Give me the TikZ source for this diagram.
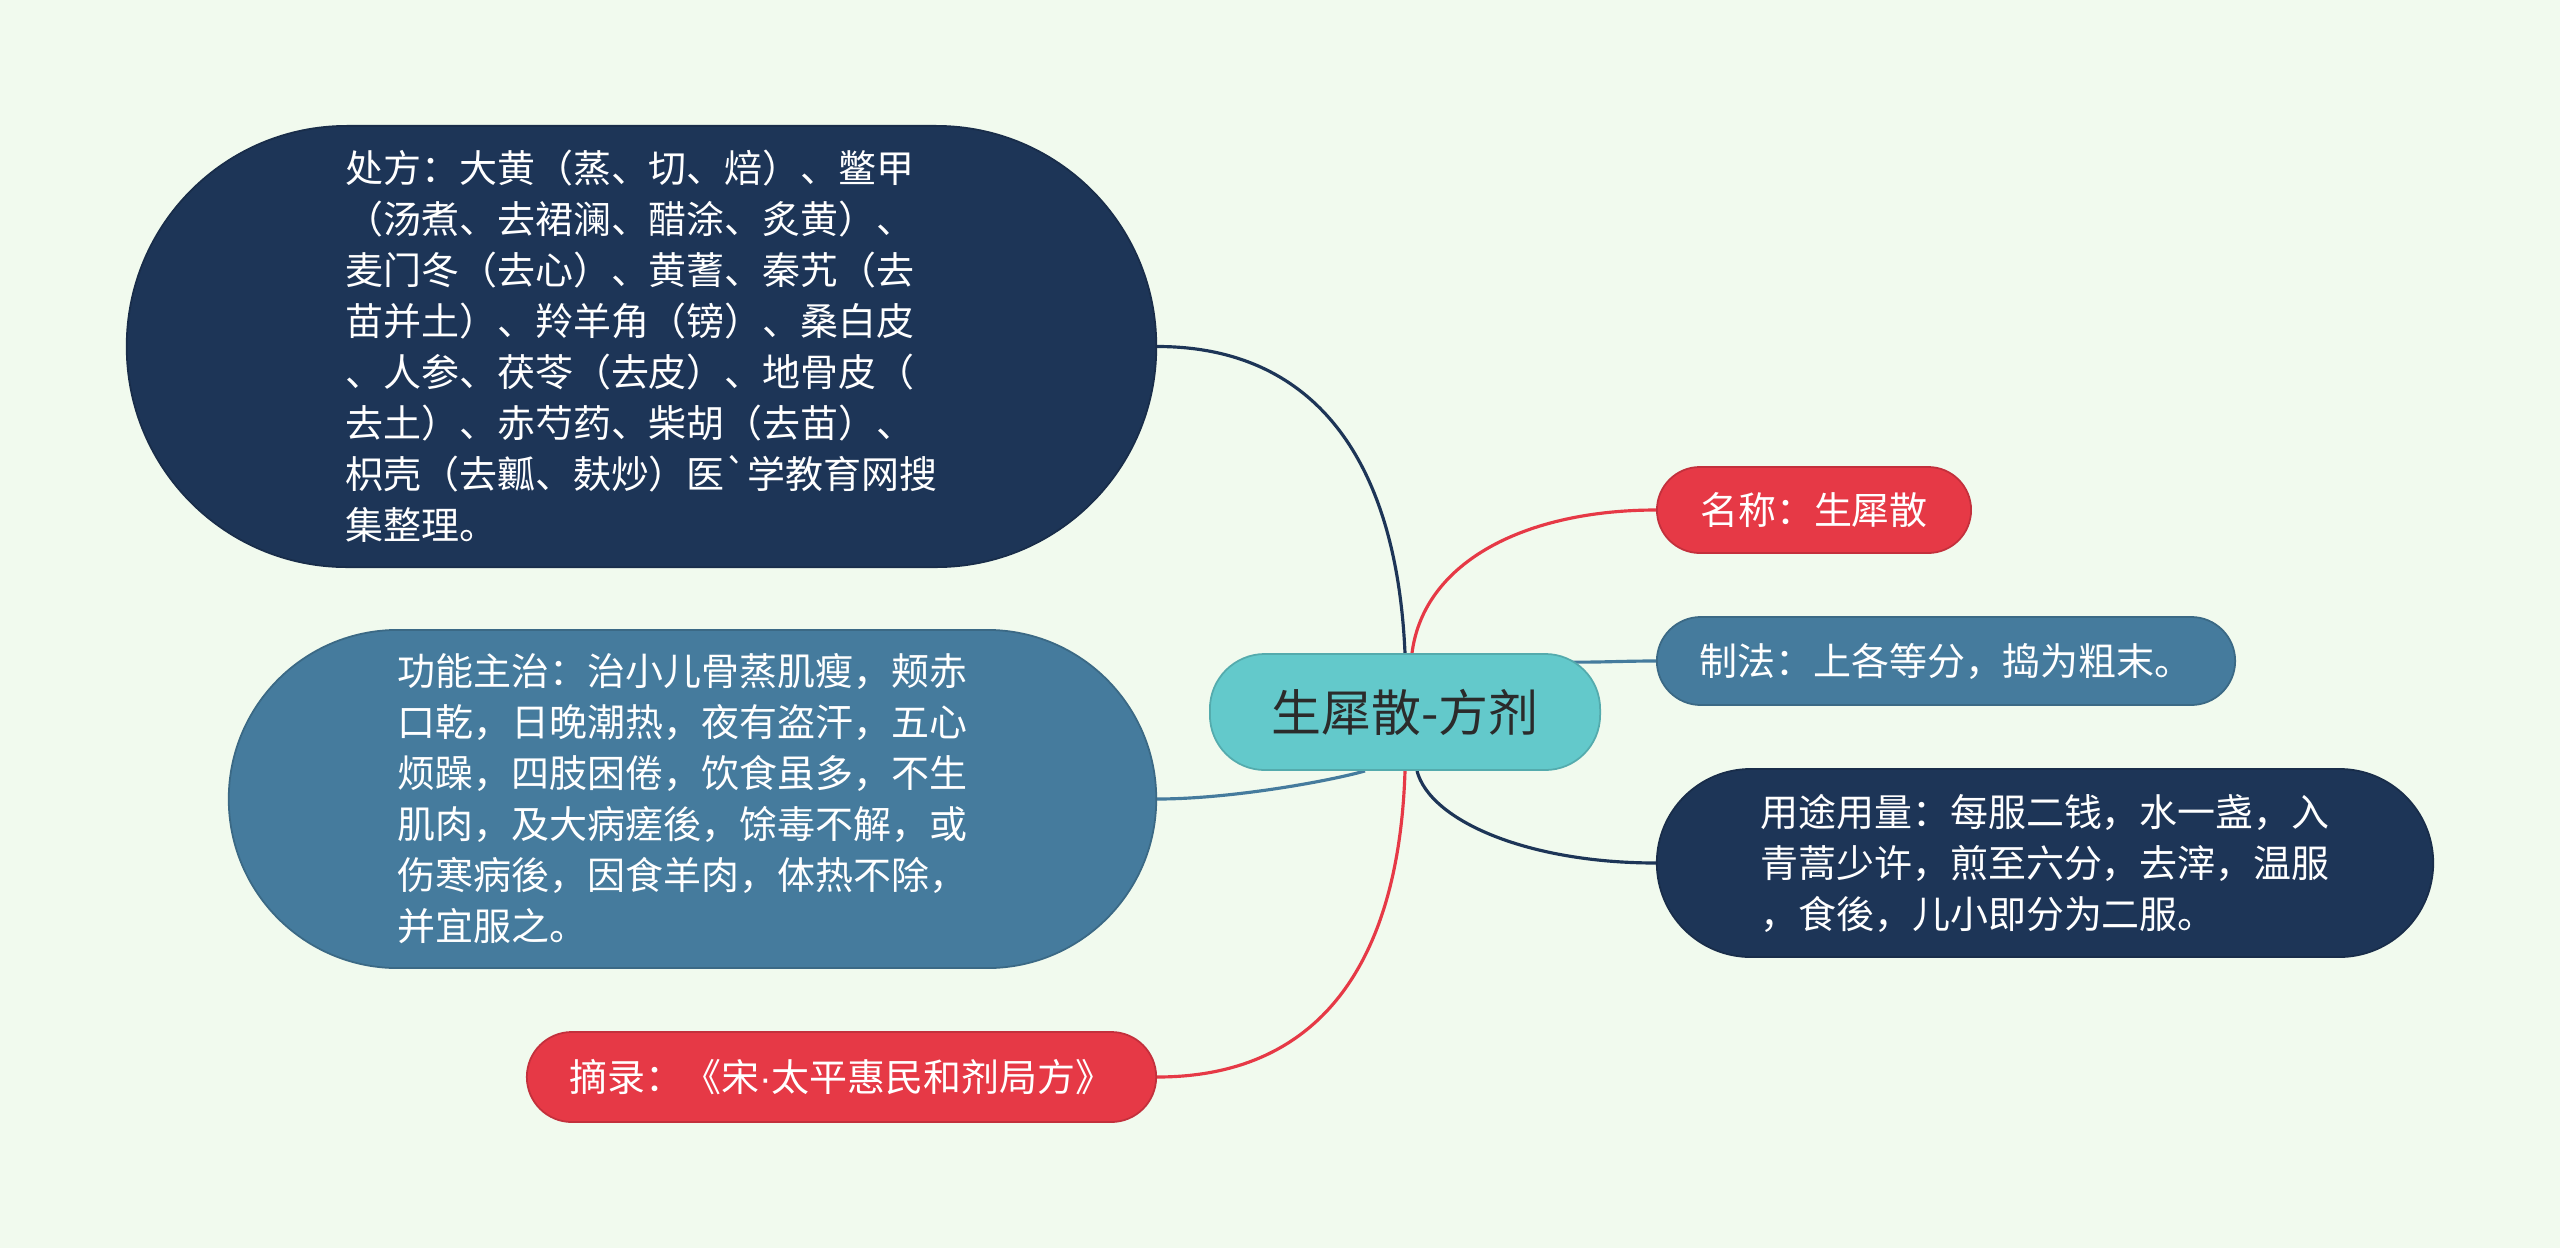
\documentclass[tikz,border=0pt]{standalone}
\usepackage{fontspec}
\newfontfamily\cjk{Noto Sans CJK SC}
\newfontfamily\latin{Liberation Sans}
\usetikzlibrary{backgrounds}
\definecolor{navy}{HTML}{1D3557}
\definecolor{steel}{HTML}{457B9D}
\definecolor{crimson}{HTML}{E63946}
\definecolor{hubteal}{HTML}{63C9CB}
\definecolor{paper}{HTML}{F1FAEE}
\definecolor{ink}{HTML}{2B2B2B}
\newcommand\leaffont{\cjk\fontsize{10.8pt}{14.5pt}\selectfont}
\newcommand\hubfont{\cjk\fontsize{14.2pt}{17pt}\selectfont}

\begin{document}
\begin{tikzpicture}[x=0.01cm, y=-0.01cm,
    pill/.style={draw=#1!85!black, fill=#1, text=white, inner sep=0pt, align=left, font=\leaffont, line width=0.5pt},
    link/.style={line width=0.9pt, draw=#1}]
    \useasboundingbox (0,0) rectangle (2560,1248);
    % Nodes
    \node[pill=hubteal, text=ink, font=\hubfont, minimum width=3.9cm, minimum height=1.16cm, rounded corners=0.55cm] (hub) at (1405,712) {生犀散-方剂};
    \node[pill=navy, minimum width=10.29cm, minimum height=4.41cm, rounded corners=2.2cm] (chufang) at (641.5,346.5) {处方：大黄（蒸、切、焙）、鳖甲\\（汤煮、去裙澜、醋涂、炙黄）、\\麦门冬（去心）、黄蓍、秦艽（去\\苗并土）、羚羊角（镑）、桑白皮\\、人参、茯苓（去皮）、地骨皮（\\去土）、赤芍药、柴胡（去苗）、\\枳壳（去瓤、麸炒）医\symbol{96}学教育网搜\\集整理。};
    \node[pill=steel, minimum width=9.27cm, minimum height=3.38cm, rounded corners=1.69cm] (gongneng) at (692.5,799) {功能主治：治小儿骨蒸肌瘦，颊赤\kern0.2cm\\口乾，日晚潮热，夜有盗汗，五心\\烦躁，四肢困倦，饮食虽多，不生\\肌肉，及大病瘥後，馀毒不解，或\\伤寒病後，因食羊肉，体热不除，\\并宜服之。};
    \node[pill=crimson, minimum width=6.29cm, minimum height=0.9cm, rounded corners=0.45cm] (zhailu) at (841.5,1077) {摘录：《宋{\latin ·}太平惠民和剂局方》};
    \node[pill=crimson, minimum width=3.14cm, minimum height=0.86cm, rounded corners=0.43cm] (mingcheng) at (1814,510) {名称：生犀散};
    \node[pill=steel, minimum width=5.78cm, minimum height=0.88cm, rounded corners=0.44cm] (zhifa) at (1946,661) {制法：上各等分，捣为粗末。};
    \node[pill=navy, minimum width=7.76cm, minimum height=1.88cm, rounded corners=0.94cm] (yongtu) at (2045,863) {用途用量：每服二钱，水一盏，入\\青蒿少许，煎至六分，去滓，温服\\，食後，儿小即分为二服。};

    % Edges
    \begin{scope}[on background layer]
    \fill[paper] (0,0) rectangle (2560,1248);
    \draw[link=navy] (hub.north) .. controls +(-9,-203) and +(150,0) .. (chufang.east);
    \draw[link=crimson] ([shift={(7,0)}]hub.north) .. controls +(12,-93) and +(-128,0) .. (mingcheng.west);
    \draw[link=steel] ([shift={(-40,-50)}]hub.east) to[out=-1,in=180] (zhifa.west);
    \draw[link=steel] ([shift={(-40,0)}]hub.south) .. controls +(-35,10) and +(74,0) .. (gongneng.east);
    \draw[link=crimson] (hub.south) .. controls +(-6,190) and +(164,0) .. (zhailu.east);
    \draw[link=navy] ([shift={(12,0)}]hub.south) .. controls +(13,50) and +(-128,0) .. (yongtu.west);
    \end{scope}
\end{tikzpicture}
\end{document}
